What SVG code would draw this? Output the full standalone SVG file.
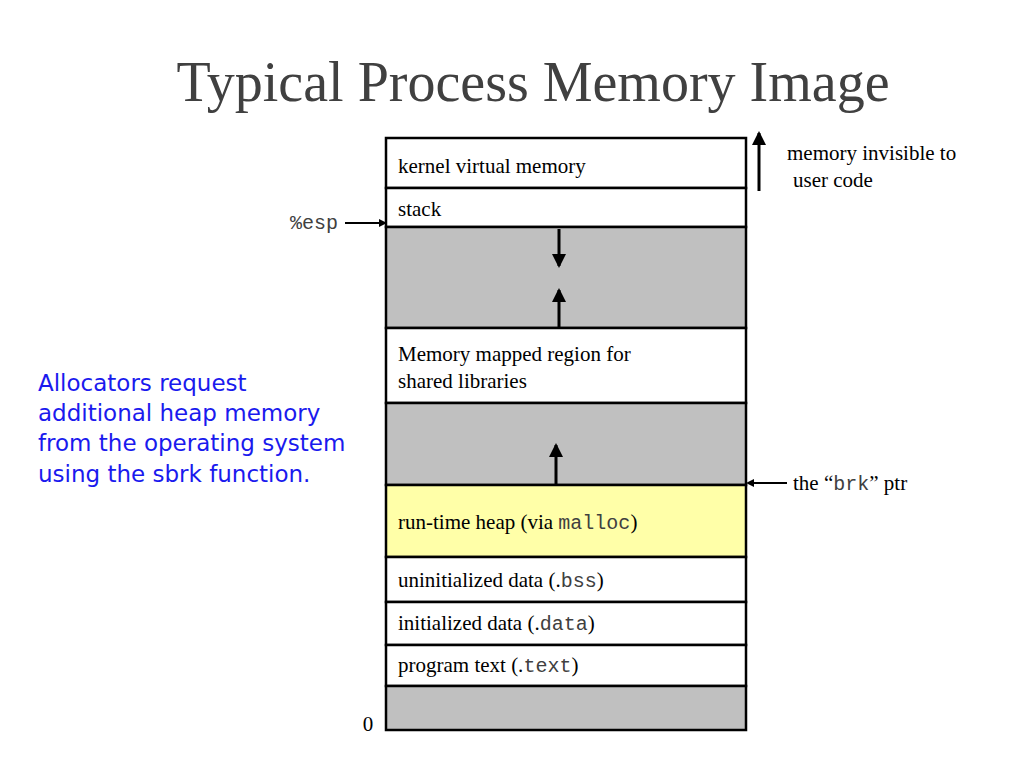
<svg xmlns="http://www.w3.org/2000/svg" width="1024" height="768" viewBox="0 0 1024 768">
<style>
.r{stroke:#000;stroke-width:2.5}
.w{fill:#fff}.g{fill:#c0c0c0}.y{fill:#ffffa8}
.t{font-family:"Liberation Serif",serif;font-size:21px;fill:#000}
.m{font-family:"Liberation Mono",monospace;font-size:20px;fill:#404040}
.b{font-family:"Comic Sans MS","DejaVu Sans",sans-serif;font-size:23px;fill:#1a1aee}
</style>
<defs><marker id="a" markerWidth="8" markerHeight="8" refX="6" refY="4" orient="auto" markerUnits="userSpaceOnUse"><path d="M0,0 L8,4 L0,8 Z" fill="#000"/></marker>
<marker id="A" markerWidth="14" markerHeight="14" refX="12" refY="7" orient="auto" markerUnits="userSpaceOnUse"><path d="M0,0 L14,7 L0,14 Z" fill="#000"/></marker></defs>
<rect width="1024" height="768" fill="#fff"/>
<text x="533" y="101" text-anchor="middle" font-family="Liberation Serif,serif" font-size="56" fill="#404040">Typical Process Memory Image</text>
<g id="kernel"><rect class="r w" x="386" y="138" width="360" height="50"/><text class="t" x="398" y="173">kernel virtual memory</text></g>
<g id="stack"><rect class="r w" x="386" y="188" width="360" height="39"/><text class="t" x="398" y="216">stack</text></g>
<g id="gap1"><rect class="r g" x="386" y="227" width="360" height="101"/></g>
<g id="mmap"><rect class="r w" x="386" y="328" width="360" height="75"/><text class="t" x="398" y="361">Memory mapped region for</text><text class="t" x="398" y="388">shared libraries</text></g>
<g id="gap2"><rect class="r g" x="386" y="403" width="360" height="82"/></g>
<g id="heap"><rect class="r y" x="386" y="485" width="360" height="72"/><text class="t" x="398" y="529">run-time heap (via <tspan class="m">malloc</tspan>)</text></g>
<g id="bss"><rect class="r w" x="386" y="557" width="360" height="45"/><text class="t" x="398" y="587">uninitialized data (.<tspan class="m">bss</tspan>)</text></g>
<g id="data"><rect class="r w" x="386" y="602" width="360" height="43"/><text class="t" x="398" y="630">initialized data (.<tspan class="m">data</tspan>)</text></g>
<g id="text"><rect class="r w" x="386" y="645" width="360" height="41"/><text class="t" x="398" y="672">program text (.<tspan class="m">text</tspan>)</text></g>
<g id="gap3"><rect class="r g" x="386" y="686" width="360" height="44"/></g>
<g id="labels">
<text class="m" x="338" y="229" text-anchor="end">%esp</text>
<text class="t" x="368" y="731" text-anchor="middle">0</text>
<text class="t" x="787" y="160">memory invisible to</text>
<text class="t" x="793" y="187">user code</text>
<text class="t" x="793" y="490">the “<tspan class="m">brk</tspan>” ptr</text>
<text class="b" x="38" y="391">Allocators request</text>
<text class="b" x="38" y="421">additional heap memory</text>
<text class="b" x="38" y="451">from the operating system</text>
<text class="b" x="38" y="482">using the sbrk function.</text>
</g>
<g id="connectors" stroke="#000" stroke-width="3" fill="none">
<line x1="559" y1="229" x2="559" y2="266" marker-end="url(#A)"/>
<line x1="559" y1="327" x2="559" y2="290" marker-end="url(#A)"/>
<line x1="556" y1="484" x2="556" y2="445" marker-end="url(#A)"/>
<line x1="759" y1="191" x2="759" y2="133" marker-end="url(#A)"/>
<line x1="345" y1="223" x2="385" y2="223" stroke-width="2" marker-end="url(#a)"/>
<line x1="787" y1="483" x2="748" y2="483" stroke-width="2" marker-end="url(#a)"/>
</g>
</svg>
